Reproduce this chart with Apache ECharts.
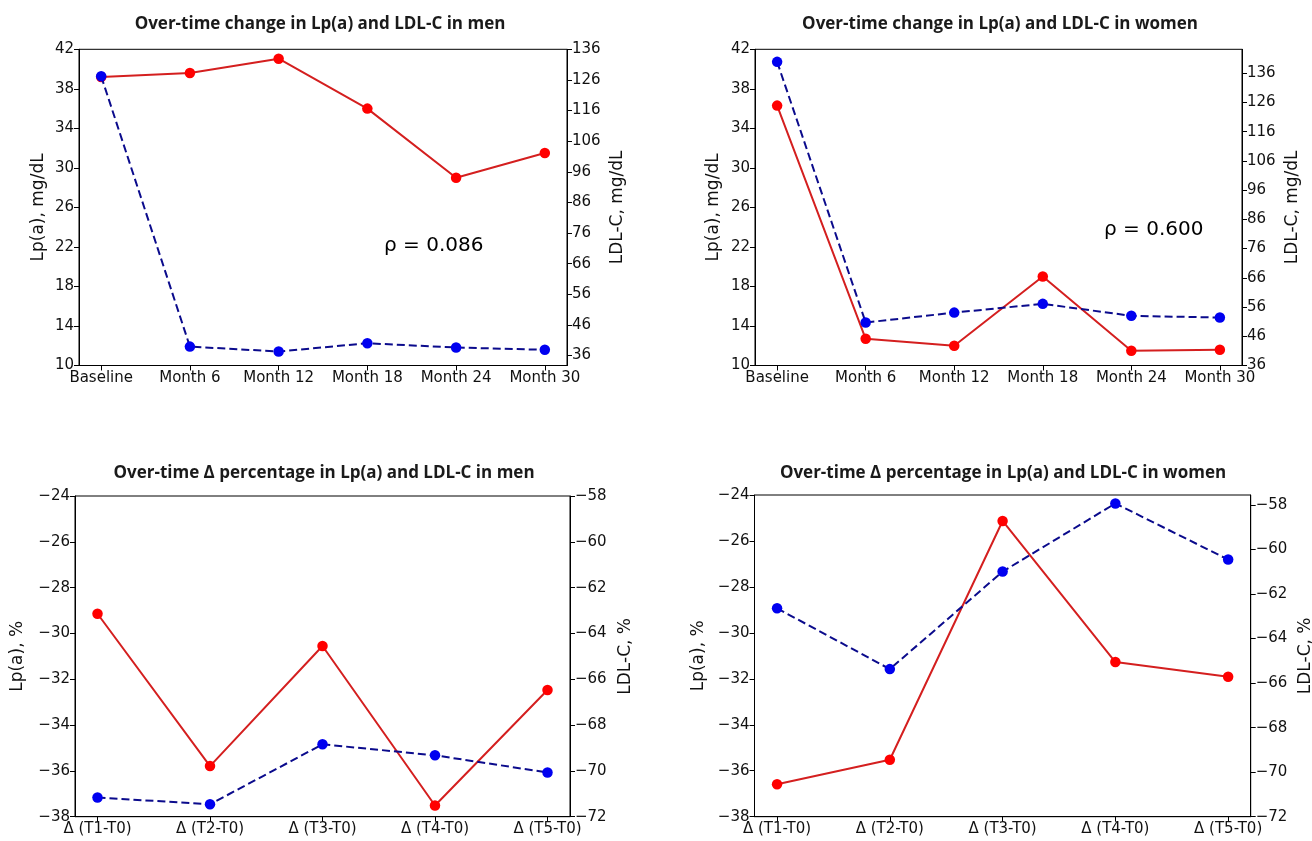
<!DOCTYPE html>
<html>
<head>
<meta charset="utf-8">
<script src="https://cdn.jsdelivr.net/npm/echarts@6/dist/echarts.min.js"></script>
<style>
html,body{margin:0;padding:0;background:#fff;}
#main{width:1312px;height:841px;}
</style>
</head>
<body>
<div id="main"></div>
<script>
// ---- data ----
const timeCats = ['Baseline', 'Month 6', 'Month 12', 'Month 18', 'Month 24', 'Month 30'];
const deltaCats = ['Δ (T1-T0)', 'Δ (T2-T0)', 'Δ (T3-T0)', 'Δ (T4-T0)', 'Δ (T5-T0)'];

const lpaMen = [39.2, 39.6, 41.05, 36.0, 29.0, 31.5];
const ldlMen = [127.2, 38.9, 37.3, 40.0, 38.6, 37.85];
const lpaWomen = [36.3, 12.7, 12.0, 19.0, 11.5, 11.6];
const ldlWomen = [139.9, 50.7, 54.1, 57.1, 53.0, 52.4];

const lpaPctMen = [-29.14, -35.79, -30.55, -37.51, -32.47];
const ldlPctMen = [-71.16, -71.46, -68.84, -69.32, -70.07];
const lpaPctWomen = [-36.59, -35.52, -25.13, -31.27, -31.91];
const ldlPctWomen = [-62.64, -65.37, -60.99, -57.93, -60.45];

const lpaTicks = [10, 14, 18, 22, 26, 30, 34, 38, 42];
const ldlTicks = [36, 46, 56, 66, 76, 86, 96, 106, 116, 126, 136];
const lpaPctTicks = [-38, -36, -34, -32, -30, -28, -26, -24];
const ldlPctTicks = [-72, -70, -68, -66, -64, -62, -60, -58];

const titles = [
  'Over-time change in Lp(a) and LDL-C in men',
  'Over-time change in Lp(a) and LDL-C in women',
  'Over-time Δ percentage in Lp(a) and LDL-C in men',
  'Over-time Δ percentage in Lp(a) and LDL-C in women'
];
const rhoMen = 'ρ = 0.086';
const rhoWomen = 'ρ = 0.600';

// ---- styling ----
const FONT = 'DejaVu Sans';
const RED_LINE = '#d41f1f';
const RED_DOT = '#ff0000';
const BLUE_LINE = '#0b0b8c';
const BLUE_DOT = '#0000f0';

function fmt(v) { return String(v).replace('-', '\u2212'); }

const grids = [
  {left: 79, top: 49.3, width: 488, height: 316.2},
  {left: 755, top: 49.3, width: 487, height: 316.2},
  {left: 75, top: 496, width: 495, height: 320.7},
  {left: 754.5, top: 495, width: 496.2, height: 321.7}
];

function xAxis(gi, cats, pad) {
  const idx = cats.map((c, i) => i);
  return {
    type: 'value', gridIndex: gi, min: -pad, max: cats.length - 1 + pad,
    axisLine: {show: true, onZero: false, lineStyle: {color: '#000', width: 1}},
    axisTick: {show: true, length: 5, customValues: idx, lineStyle: {color: '#000'}},
    axisLabel: {customValues: idx, formatter: v => cats[Math.round(v)], color: '#111',
      fontFamily: FONT, fontSize: 15, margin: 5},
    splitLine: {show: false}
  };
}

function yAxis(gi, pos, min, max, ticks, name, gap) {
  return {
    type: 'value', gridIndex: gi, position: pos, min: min, max: max,
    name: name, nameLocation: 'middle', nameGap: gap, nameRotate: 90,
    nameTextStyle: {fontFamily: FONT, fontSize: 17, color: '#111'},
    axisLine: {show: true, onZero: false, lineStyle: {color: '#000', width: 1}},
    axisTick: {show: true, length: 5, customValues: ticks, lineStyle: {color: '#000'}},
    axisLabel: {customValues: ticks, formatter: fmt, color: '#111',
      fontFamily: FONT, fontSize: 15, margin: 5},
    splitLine: {show: false}
  };
}

function pts(vals) { return vals.map((v, i) => [i, v]); }

function redSeries(xi, yi, vals) {
  return {
    type: 'line', xAxisIndex: xi, yAxisIndex: yi, data: pts(vals),
    symbol: 'circle', symbolSize: 10.5, showSymbol: true,
    lineStyle: {color: RED_LINE, width: 2},
    itemStyle: {color: RED_DOT, borderWidth: 0},
    emphasis: {disabled: true}, animation: false, z: 2
  };
}
function blueSeries(xi, yi, vals) {
  return {
    type: 'line', xAxisIndex: xi, yAxisIndex: yi, data: pts(vals),
    symbol: 'circle', symbolSize: 10.5, showSymbol: true,
    lineStyle: {color: BLUE_LINE, width: 2, type: [8, 4]},
    itemStyle: {color: BLUE_DOT, borderWidth: 0},
    emphasis: {disabled: true}, animation: false, z: 3
  };
}

const titleCenters = [[320, 16], [1000, 16], [324, 465], [1003, 465]];

const option = {
  backgroundColor: '#fff',
  animation: false,
  title: titles.map((t, i) => ({
    text: t, left: titleCenters[i][0], top: titleCenters[i][1], textAlign: 'center', padding: 0,
    textStyle: {fontFamily: 'Open Sans', fontWeight: 'bold', fontSize: 17, color: '#1a1a1a'}
  })),
  grid: grids.map(g => Object.assign({show: true, borderColor: '#000', borderWidth: 1,
    backgroundColor: 'transparent', containLabel: false, outerBoundsMode: 'none'}, g)),
  xAxis: [
    xAxis(0, timeCats, 0.25),
    xAxis(1, timeCats, 0.25),
    xAxis(2, deltaCats, 0.2),
    xAxis(3, deltaCats, 0.2)
  ],
  yAxis: [
    yAxis(0, 'left', 10, 42, lpaTicks, 'Lp(a), mg/dL', 32),
    yAxis(0, 'right', 32.73, 136, ldlTicks, 'LDL-C, mg/dL', 42),
    yAxis(1, 'left', 10, 42, lpaTicks, 'Lp(a), mg/dL', 33),
    yAxis(1, 'right', 36, 144.2, ldlTicks, 'LDL-C, mg/dL', 42),
    yAxis(2, 'left', -38, -24, lpaPctTicks, 'Lp(a), %', 49),
    yAxis(2, 'right', -72, -58, ldlPctTicks, 'LDL-C, %', 47),
    yAxis(3, 'left', -38, -24, lpaPctTicks, 'Lp(a), %', 47),
    yAxis(3, 'right', -72, -57.55, ldlPctTicks, 'LDL-C, %', 46)
  ],
  series: [
    redSeries(0, 0, lpaMen),
    blueSeries(0, 1, ldlMen),
    redSeries(1, 2, lpaWomen),
    blueSeries(1, 3, ldlWomen),
    redSeries(2, 4, lpaPctMen),
    blueSeries(2, 5, ldlPctMen),
    redSeries(3, 6, lpaPctWomen),
    blueSeries(3, 7, ldlPctWomen)
  ],
  graphic: [
    {type: 'text', left: 384, top: 236, style: {text: rhoMen, font: '20px "DejaVu Sans"', fill: '#000'}},
    {type: 'text', left: 1104, top: 220, style: {text: rhoWomen, font: '20px "DejaVu Sans"', fill: '#000'}}
  ]
};

const chart = echarts.init(document.getElementById('main'), null, {renderer: 'canvas'});
chart.setOption(option);
</script>
</body>
</html>
